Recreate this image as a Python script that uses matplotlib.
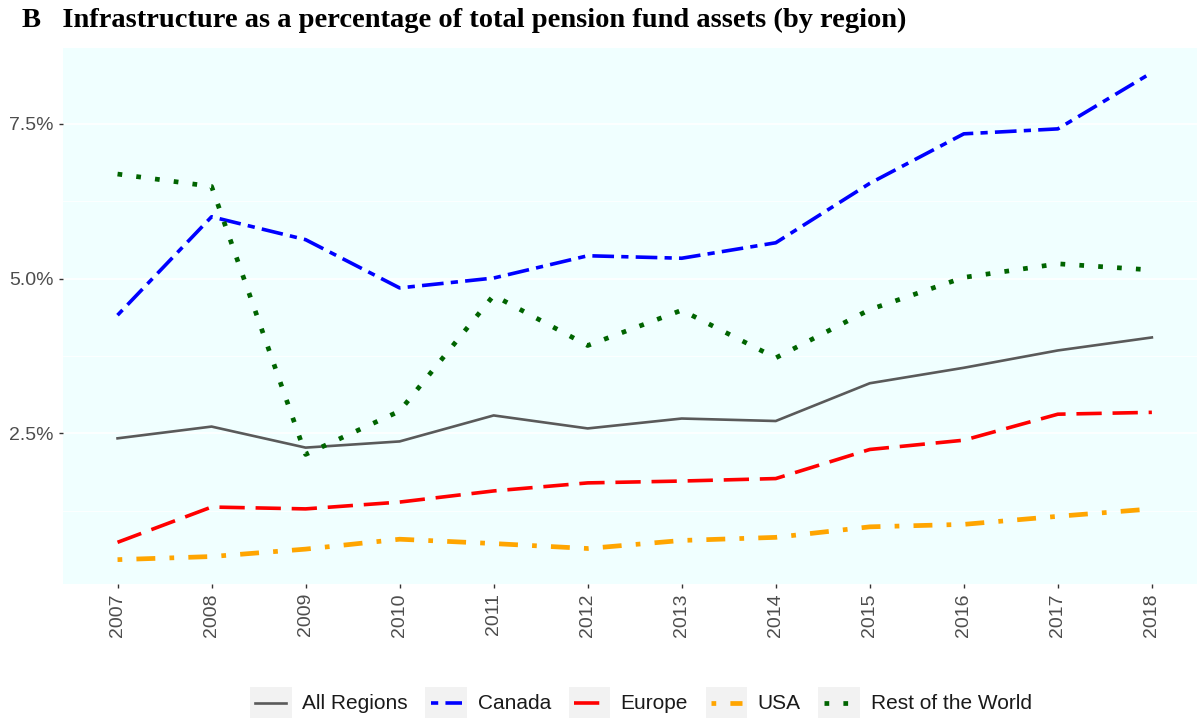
import matplotlib
matplotlib.use("Agg")
import matplotlib.pyplot as plt
from matplotlib.lines import Line2D
from matplotlib.patches import Rectangle
from matplotlib.ticker import FixedLocator, FuncFormatter

years = [2007, 2008, 2009, 2010, 2011, 2012, 2013, 2014, 2015, 2016, 2017, 2018]
all_regions = [2.42, 2.61, 2.27, 2.37, 2.79, 2.58, 2.74, 2.70, 3.31, 3.56, 3.84, 4.05]
canada = [4.41, 6.00, 5.63, 4.85, 5.01, 5.37, 5.33, 5.58, 6.54, 7.34, 7.42, 8.33]
europe = [0.74, 1.31, 1.28, 1.39, 1.57, 1.70, 1.73, 1.77, 2.24, 2.39, 2.81, 2.84]
usa = [0.46, 0.51, 0.63, 0.79, 0.72, 0.64, 0.77, 0.82, 0.99, 1.03, 1.16, 1.28]
rest_of_world = [6.69, 6.49, 2.16, 2.86, 4.73, 3.92, 4.49, 3.72, 4.50, 5.02, 5.24, 5.14]

series = [
    ("All Regions", all_regions, "#5a5a5a", 1.9, "-"),
    ("Canada", canada, "#0000ff", 2.6, (0, (2, 2, 6, 2))),
    ("Europe", europe, "#ff0000", 2.6, (0, (7, 3))),
    ("USA", usa, "#ffa500", 3.4, (0, (1, 3, 4, 3))),
    ("Rest of the World", rest_of_world, "#006400", 3.4, (0, (1, 3))),
]
styles = {name: ls for name, _, _, _, ls in series}


class KeyHandler:
    """ggplot-ish legend key: grey box with an inset line sample"""

    def legend_artist(self, legend, orig_handle, fontsize, handlebox):
        x0, y0 = -handlebox.xdescent, -handlebox.ydescent
        w, h = handlebox.width, handlebox.height
        tr = handlebox.get_transform()
        box = Rectangle((x0, y0), w, h, facecolor="#f2f2f2", edgecolor="none", transform=tr)
        inset = 0.13 * w
        ln = Line2D([x0 + inset, x0 + w - inset], [y0 + h / 2] * 2,
                    color=orig_handle.get_color(), lw=orig_handle.get_linewidth(),
                    linestyle=styles[orig_handle.get_label()], transform=tr)
        handlebox.add_artist(box)
        handlebox.add_artist(ln)
        return box


plt.rcParams["font.family"] = ["Liberation Sans", "DejaVu Sans"]

fig = plt.figure(figsize=(12, 7.26), dpi=100)
ax = fig.add_axes([0.0525, 0.1956, 0.945, 0.738])
ax.set_facecolor("#f0ffff")

# white grid like ggplot
for v in [1.25, 3.75, 6.25]:
    ax.axhline(v, color="white", lw=0.6, zorder=0.5)
for v in [2.5, 5.0, 7.5]:
    ax.axhline(v, color="white", lw=1.2, zorder=0.5)

handles = []
for name, vals, color, lw, ls in series:
    line, = ax.plot(years, vals, color=color, lw=lw, linestyle=ls, zorder=2, label=name)
    handles.append(line)

lo = min(min(s[1]) for s in series)
hi = max(max(s[1]) for s in series)
pad = (hi - lo) * 0.05
ax.set_ylim(lo - pad, hi + pad)
ax.set_xlim(2007 - 0.58, 2018 + 0.48)

ax.set_xticks(years)
ax.set_xticklabels([str(y) for y in years], rotation=90, fontsize=14, color="#4d4d4d")
ax.yaxis.set_major_locator(FixedLocator([2.5, 5.0, 7.5]))
ax.yaxis.set_major_formatter(FuncFormatter(lambda v, p: f"{v:.1f}%"))
ax.tick_params(axis="y", labelsize=14, labelcolor="#4d4d4d")
ax.tick_params(length=3, width=1, color="#333333")

for s in ax.spines.values():
    s.set_visible(False)

fig.text(0.018, 0.972, "B   Infrastructure as a percentage of total pension fund assets (by region)",
         family="Liberation Serif", weight="bold", fontsize=20.5, va="center")

fig.legend(handles, [s[0] for s in series],
           handler_map={Line2D: KeyHandler()},
           loc="center", bbox_to_anchor=(0.534, 0.032), ncol=5, frameon=False,
           fontsize=15, handlelength=2.0, handleheight=1.92, handletextpad=0.5,
           columnspacing=0.85, labelcolor="#1a1a1a")

fig.savefig("out.png", dpi=100)
